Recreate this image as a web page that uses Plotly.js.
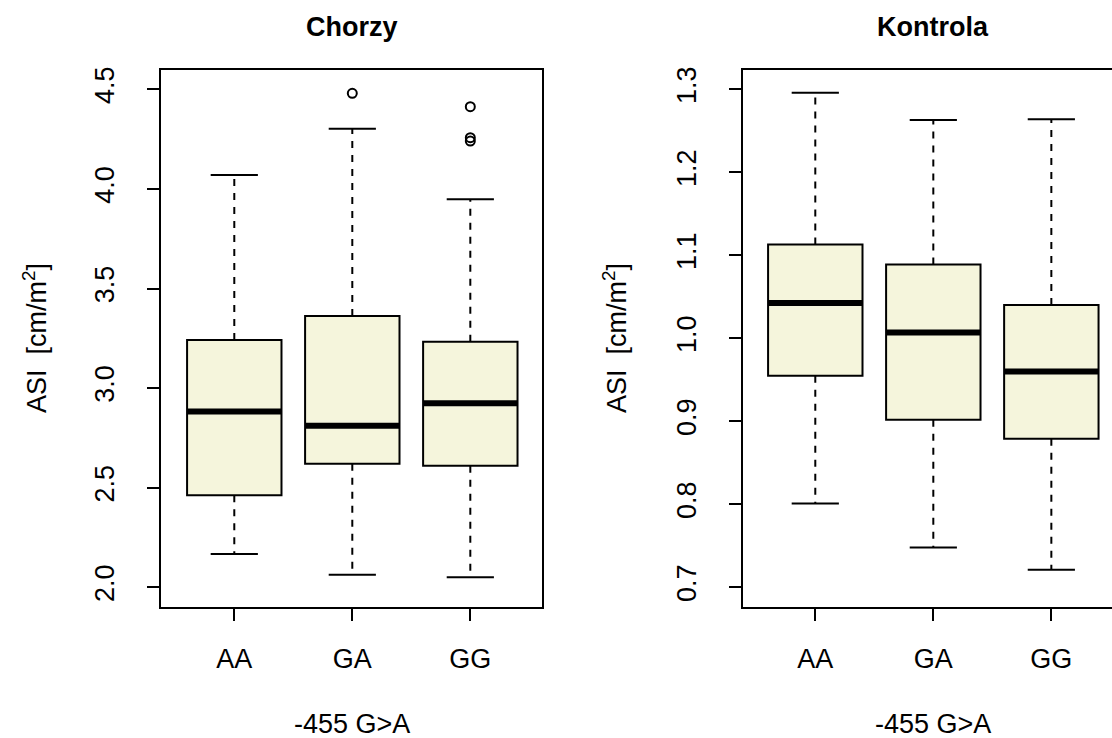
<!DOCTYPE html>
<html>
<head>
<meta charset="utf-8">
<script src="https://cdn.plot.ly/plotly-3.0.1.min.js"></script>
<style>html,body{margin:0;padding:0;background:#fff;}#chart{width:1112px;height:738px;}</style>
</head>
<body>
<div id="chart"></div>
<script>
// ---- data ----
const cats = ["AA", "GA", "GG"];

const chorzyLo  = [2.167, 2.063, 2.050];
const chorzyQ1  = [2.462, 2.620, 2.610];
const chorzyMed = [2.882, 2.811, 2.924];
const chorzyQ3  = [3.242, 3.362, 3.233];
const chorzyHi  = [4.070, 4.302, 3.948];
const chorzyOutCat = ["GA", "GG", "GG", "GG"];
const chorzyOutVal = [4.480, 4.413, 4.257, 4.240];

const kontrolaLo  = [0.801, 0.748, 0.721];
const kontrolaQ1  = [0.955, 0.902, 0.879];
const kontrolaMed = [1.0425, 1.007, 0.960];
const kontrolaQ3  = [1.113, 1.089, 1.040];
const kontrolaHi  = [1.296, 1.263, 1.264];
const kontrolaOutCat = [];
const kontrolaOutVal = [];

const yTicksChorzy = [2.0, 2.5, 3.0, 3.5, 4.0, 4.5];
const yTicksKontrola = [0.7, 0.8, 0.9, 1.0, 1.1, 1.2, 1.3];
const panelTitles = ["Chorzy", "Kontrola"];
const xTitle = "-455 G>A";
const yTitle = "ASI  [cm/m<sup>2</sup>]";

// ---- styling ----
const FONT = "Liberation Sans, Arial, Helvetica, sans-serif";
const FS = 27;
const BOXW = 0.8, CAPW = 0.4;
const pos = cats.map((c, i) => i + 1);
const catPos = c => cats.indexOf(c) + 1;

function panel(lo, q1, med, q3, hi, outCat, outVal, xa, ya) {
  const traces = [];
  traces.push({
    type: "box", xaxis: xa, yaxis: ya, x: pos,
    q1: q1, median: med, q3: q3, lowerfence: q1, upperfence: q3,
    width: BOXW, boxpoints: false, whiskerwidth: 0,
    fillcolor: "#F5F5DC", line: {color: "#000", width: 2},
    hoverinfo: "skip", showlegend: false
  });
  const wx = [], wy = [], cx = [], cy = [], mx = [], my = [];
  pos.forEach((p, i) => {
    wx.push(p, p, null, p, p, null);
    wy.push(q3[i], hi[i], null, q1[i], lo[i], null);
    cx.push(p - CAPW / 2, p + CAPW / 2, null, p - CAPW / 2, p + CAPW / 2, null);
    cy.push(hi[i], hi[i], null, lo[i], lo[i], null);
    mx.push(p - BOXW / 2, p + BOXW / 2, null);
    my.push(med[i], med[i], null);
  });
  traces.push({type: "scatter", mode: "lines", xaxis: xa, yaxis: ya, x: wx, y: wy,
    line: {color: "#000", width: 2, dash: "7px,7px"}, hoverinfo: "skip", showlegend: false});
  traces.push({type: "scatter", mode: "lines", xaxis: xa, yaxis: ya, x: cx, y: cy,
    line: {color: "#000", width: 2}, hoverinfo: "skip", showlegend: false});
  traces.push({type: "scatter", mode: "lines", xaxis: xa, yaxis: ya, x: mx, y: my,
    line: {color: "#000", width: 6}, hoverinfo: "skip", showlegend: false});
  if (outVal.length) {
    traces.push({type: "scatter", mode: "markers", xaxis: xa, yaxis: ya,
      x: outCat.map(catPos), y: outVal,
      marker: {symbol: "circle-open", size: 9, color: "#000", line: {color: "#000", width: 2}},
      hoverinfo: "skip", showlegend: false});
  }
  return traces;
}

const data = [].concat(
  panel(chorzyLo, chorzyQ1, chorzyMed, chorzyQ3, chorzyHi, chorzyOutCat, chorzyOutVal, "x", "y"),
  panel(kontrolaLo, kontrolaQ1, kontrolaMed, kontrolaQ3, kontrolaHi, kontrolaOutCat, kontrolaOutVal, "x2", "y2")
);

const W = 1112, H = 738;
const yDom = [1 - 607.3 / H, 1 - 70 / H];
const commonX = {
  tickmode: "array", tickvals: pos, ticktext: cats,
  showgrid: false, zeroline: false, showline: true, mirror: true,
  linecolor: "#000", linewidth: 2, ticks: "outside", ticklen: 12, tickwidth: 2, tickcolor: "#000",
  tickfont: {family: FONT, size: FS, color: "#000"}, automargin: false, fixedrange: true,
  ticklabelstandoff: 14
};
const commonY = {
  showgrid: false, zeroline: false, showline: true,
  linecolor: "#000", linewidth: 2, ticks: "outside", ticklen: 12, tickwidth: 2, tickcolor: "#000",
  tickfont: {family: FONT, size: FS, color: "#000"}, tickangle: -90, tickformat: ".1f",
  tickmode: "array", automargin: false, fixedrange: true, domain: yDom, ticklabelstandoff: 22
};

const layout = {
  width: W, height: H, paper_bgcolor: "#fff", plot_bgcolor: "#fff",
  margin: {l: 0, r: 0, t: 0, b: 0}, showlegend: false,
  font: {family: FONT, size: FS, color: "#000"},
  xaxis: Object.assign({}, commonX, {domain: [161 / W, 542.3 / W], range: [0.379, 3.61], anchor: "y"}),
  yaxis: Object.assign({}, commonY, {range: [1.8996, 4.597], tickvals: yTicksChorzy, mirror: true, anchor: "x"}),
  xaxis2: Object.assign({}, commonX, {domain: [742.7 / W, 1], range: [0.385, 3.514], anchor: "y2"}),
  yaxis2: Object.assign({}, commonY, {range: [0.6759, 1.3233], tickvals: yTicksKontrola, mirror: false, anchor: "x2"}),
  annotations: [
    {text: "<b>" + panelTitles[0] + "</b>", xref: "paper", yref: "paper", x: 351.7 / W, y: 1 - 27 / H,
      xanchor: "center", yanchor: "middle", showarrow: false, font: {family: FONT, size: FS, color: "#000"}},
    {text: "<b>" + panelTitles[1] + "</b>", xref: "paper", yref: "paper", x: 933.3 / W, y: 1 - 27 / H,
      xanchor: "center", yanchor: "middle", showarrow: false, font: {family: FONT, size: FS, color: "#000"}},
    {text: xTitle, xref: "paper", yref: "paper", x: 351.7 / W, y: 1 - 724 / H,
      xanchor: "center", yanchor: "middle", showarrow: false, font: {family: FONT, size: FS, color: "#000"}},
    {text: xTitle, xref: "paper", yref: "paper", x: 933.3 / W, y: 1 - 724 / H,
      xanchor: "center", yanchor: "middle", showarrow: false, font: {family: FONT, size: FS, color: "#000"}},
    {text: yTitle, xref: "paper", yref: "paper", x: 34.5 / W, y: 1 - 338.6 / H, textangle: -90,
      xanchor: "center", yanchor: "middle", showarrow: false, font: {family: FONT, size: FS, color: "#000"}},
    {text: yTitle, xref: "paper", yref: "paper", x: 614.5 / W, y: 1 - 338.6 / H, textangle: -90,
      xanchor: "center", yanchor: "middle", showarrow: false, font: {family: FONT, size: FS, color: "#000"}}
  ]
};

Plotly.newPlot("chart", data, layout, {staticPlot: true, displayModeBar: false});
</script>
</body>
</html>
